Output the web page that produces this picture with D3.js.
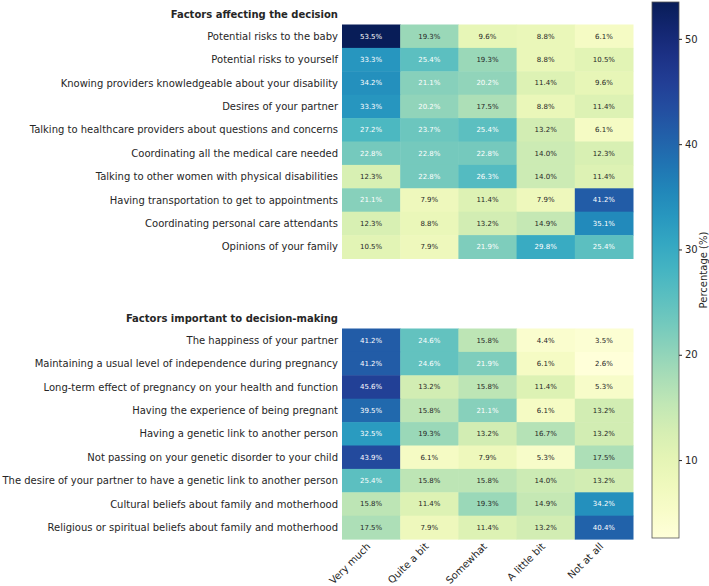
<!DOCTYPE html>
<html>
<head>
<meta charset="utf-8">
<script src="https://cdn.jsdelivr.net/npm/d3@7"></script>
<style>
    body { margin: 0; background: #fff; }
    text { font-family: "DejaVu Sans", sans-serif; fill: #262626; }
</style>
</head>
<body>
<svg id="chart" width="709" height="586"></svg>
<script>
var responses = ["Very much", "Quite a bit", "Somewhat", "A little bit", "Not at all"];

var decisionFactors = [
    "Potential risks to the baby",
    "Potential risks to yourself",
    "Knowing providers knowledgeable about your disability",
    "Desires of your partner",
    "Talking to healthcare providers about questions and concerns",
    "Coordinating all the medical care needed",
    "Talking to other women with physical disabilities",
    "Having transportation to get to appointments",
    "Coordinating personal care attendants",
    "Opinions of your family"
];
var decisionValues = [
    [53.5, 19.3, 9.6, 8.8, 6.1],
    [33.3, 25.4, 19.3, 8.8, 10.5],
    [34.2, 21.1, 20.2, 11.4, 9.6],
    [33.3, 20.2, 17.5, 8.8, 11.4],
    [27.2, 23.7, 25.4, 13.2, 6.1],
    [22.8, 22.8, 22.8, 14.0, 12.3],
    [12.3, 22.8, 26.3, 14.0, 11.4],
    [21.1, 7.9, 11.4, 7.9, 41.2],
    [12.3, 8.8, 13.2, 14.9, 35.1],
    [10.5, 7.9, 21.9, 29.8, 25.4]
];

var importantFactors = [
    "The happiness of your partner",
    "Maintaining a usual level of independence during pregnancy",
    "Long-term effect of pregnancy on your health and function",
    "Having the experience of being pregnant",
    "Having a genetic link to another person",
    "Not passing on your genetic disorder to your child",
    "The desire of your partner to have a genetic link to another person",
    "Cultural beliefs about family and motherhood",
    "Religious or spiritual beliefs about family and motherhood"
];
var importantValues = [
    [41.2, 24.6, 15.8, 4.4, 3.5],
    [41.2, 24.6, 21.9, 6.1, 2.6],
    [45.6, 13.2, 15.8, 11.4, 5.3],
    [39.5, 15.8, 21.1, 6.1, 13.2],
    [32.5, 19.3, 13.2, 16.7, 13.2],
    [43.9, 6.1, 7.9, 5.3, 17.5],
    [25.4, 15.8, 15.8, 14.0, 13.2],
    [15.8, 11.4, 19.3, 14.9, 34.2],
    [17.5, 7.9, 11.4, 13.2, 40.4]
];

var colorTicks = [10, 20, 30, 40, 50];

var svg = d3.select("#chart");

var left = 342, right = 633;
var rowH = 23.4;
var top1 = 24.5, top2 = 328.5;

var allValues = d3.merge(decisionValues.concat(importantValues));
var vmin = d3.min(allValues), vmax = d3.max(allValues);
var color = d3.scaleSequential(d3.interpolateYlGnBu).domain([vmin, vmax]);

var x = d3.scaleBand().domain(responses).range([left, right]);

function luminance(c) {
    c = d3.rgb(c);
    var lin = [c.r, c.g, c.b].map(function (u) {
        u = u / 255;
        return u <= 0.03928 ? u / 12.92 : Math.pow((u + 0.055) / 1.055, 2.4);
    });
    return 0.2126 * lin[0] + 0.7152 * lin[1] + 0.0722 * lin[2];
}

// light text once the cell is about as dark as ~20% (d3's ramp is a bit lighter than matplotlib's)
var lumCut = luminance(color(19.8));
function textColor(v) {
    return luminance(color(v)) > lumCut ? "#262626" : "#ffffff";
}

function drawHeatmap(title, rows, values, top) {
    var y = d3.scaleBand().domain(rows).range([top, top + rows.length * rowH]);
    var g = svg.append("g");

    var cells = [];
    values.forEach(function (row, i) {
        row.forEach(function (v, j) {
            cells.push({ row: rows[i], col: responses[j], value: v });
        });
    });

    g.selectAll("rect.cell")
        .data(cells)
        .enter().append("rect")
        .attr("class", "cell")
        .attr("x", function (d) { return x(d.col); })
        .attr("y", function (d) { return y(d.row); })
        .attr("width", x.bandwidth() + 0.5)
        .attr("height", y.bandwidth() + 0.5)
        .attr("fill", function (d) { return color(d.value); });

    g.selectAll("text.annot")
        .data(cells)
        .enter().append("text")
        .attr("class", "annot")
        .attr("x", function (d) { return x(d.col) + x.bandwidth() / 2; })
        .attr("y", function (d) { return y(d.row) + y.bandwidth() / 2; })
        .attr("dy", "0.35em")
        .attr("text-anchor", "middle")
        .style("font-size", "7px")
        .style("fill", function (d) { return textColor(d.value); })
        .text(function (d) { return d.value.toFixed(1) + "%"; });

    g.selectAll("text.rowlabel")
        .data(rows)
        .enter().append("text")
        .attr("class", "rowlabel")
        .attr("x", left - 4)
        .attr("y", function (d) { return y(d) + y.bandwidth() / 2; })
        .attr("dy", "0.35em")
        .attr("text-anchor", "end")
        .style("font-size", "10px")
        .text(function (d) { return d; });

    g.append("text")
        .attr("x", left - 4)
        .attr("y", top - 10)
        .attr("dy", "0.35em")
        .attr("text-anchor", "end")
        .style("font-size", "10px")
        .style("font-weight", "bold")
        .text(title);

    return y;
}

drawHeatmap("Factors affecting the decision", decisionFactors, decisionValues, top1);
var y2 = drawHeatmap("Factors important to decision-making", importantFactors, importantValues, top2);

// x tick labels under the lower heatmap
var bottom = y2.range()[1];
svg.append("g").selectAll("text")
    .data(responses)
    .enter().append("text")
    .attr("text-anchor", "end")
    .attr("transform", function (d) {
        return "translate(" + (x(d) + x.bandwidth() / 2) + "," + (bottom + 8) + ")rotate(-45)";
    })
    .style("font-size", "10px")
    .text(function (d) { return d; });

// colour bar
var cbX = 652, cbW = 27, cbTop = 2, cbBottom = 538;
var cbScale = d3.scaleLinear().domain([vmin, vmax]).range([cbBottom, cbTop]);

var defs = svg.append("defs");
var grad = defs.append("linearGradient")
    .attr("id", "cbgrad")
    .attr("x1", 0).attr("y1", 1).attr("x2", 0).attr("y2", 0);
d3.range(0, 1.0001, 0.05).forEach(function (t) {
    grad.append("stop")
        .attr("offset", t)
        .attr("stop-color", d3.interpolateYlGnBu(t));
});

svg.append("rect")
    .attr("x", cbX)
    .attr("y", cbTop)
    .attr("width", cbW)
    .attr("height", cbBottom - cbTop)
    .attr("fill", "url(#cbgrad)")
    .attr("stroke", "#555")
    .attr("stroke-width", 0.8);

var cbAxis = svg.append("g")
    .attr("transform", "translate(" + (cbX + cbW) + ",0)")
    .call(d3.axisRight(cbScale).tickValues(colorTicks).tickSize(3).tickPadding(3));
cbAxis.select(".domain").remove();
cbAxis.selectAll("line").attr("stroke", "#262626");
cbAxis.selectAll("text")
    .style("font-size", "10px")
    .style("font-family", "DejaVu Sans, sans-serif")
    .attr("fill", "#262626");

svg.append("text")
    .attr("transform", "translate(703," + ((cbTop + cbBottom) / 2) + ")rotate(-90)")
    .attr("text-anchor", "middle")
    .attr("dy", "0.35em")
    .style("font-size", "10px")
    .text("Percentage (%)");
</script>
</body>
</html>
